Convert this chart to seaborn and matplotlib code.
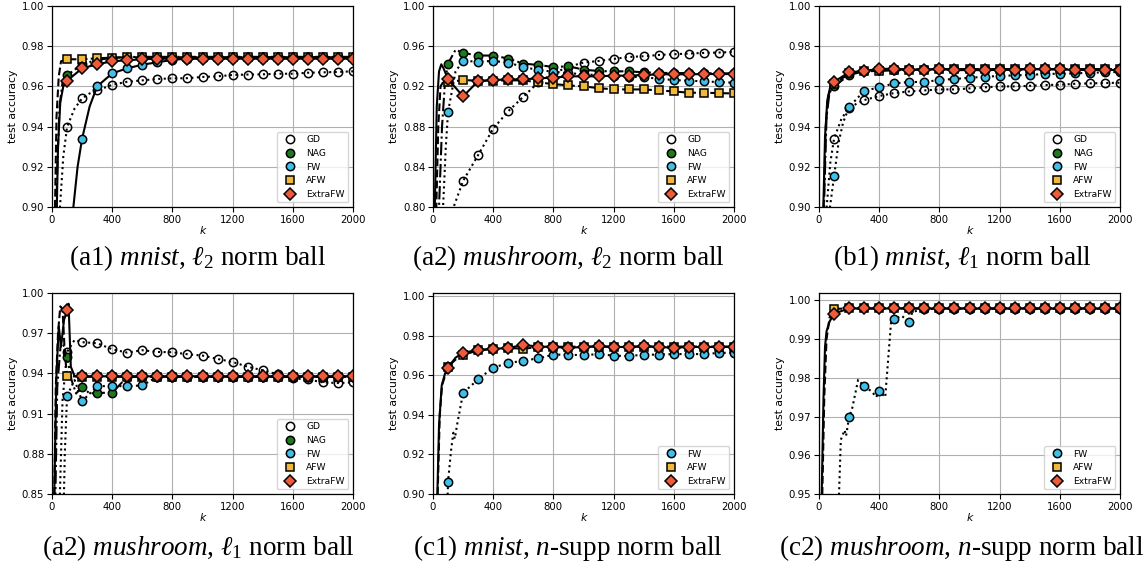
import numpy as np
import pandas as pd
import matplotlib
matplotlib.use("Agg")
import matplotlib.pyplot as plt
from matplotlib.lines import Line2D
from matplotlib.ticker import FormatStrFormatter
import seaborn as sns

# ---- data ----
# marker positions: every 100 iterations
K_MARKS = list(range(100, 2001, 100))

# (a1) mnist, l2 norm ball
A1_GD = [0.9398, 0.9540, 0.9580, 0.9608, 0.9623, 0.9630, 0.9637, 0.9640, 0.9641, 0.9647,
         0.9650, 0.9657, 0.9659, 0.9660, 0.9663, 0.9663, 0.9668, 0.9670, 0.9672, 0.9675]
A1_GD_EXTRA = [(0, 0.60), (40, 0.88), (53, 0.90), (75, 0.925), (150, 0.949), (250, 0.9565)]
A1_NAG = [0.9655, 0.9710, 0.9732, 0.9742, 0.9746, 0.9747, 0.9747, 0.9747, 0.9747, 0.9747,
          0.9747, 0.9747, 0.9747, 0.9747, 0.9747, 0.9747, 0.9747, 0.9747, 0.9747, 0.9747]
A1_NAG_EXTRA = [(0, 0.55), (25, 0.88), (35, 0.92), (50, 0.950), (70, 0.962)]
A1_FW = [0.8000, 0.9340, 0.9600, 0.9665, 0.9690, 0.9708, 0.9720, 0.9732, 0.9738, 0.9741,
         0.9743, 0.9744, 0.9744, 0.9745, 0.9745, 0.9745, 0.9745, 0.9745, 0.9745, 0.9745]
A1_FW_EXTRA = [(0, 0.40), (142, 0.90), (170, 0.92), (250, 0.950)]
A1_AFW = [0.9735, 0.9735, 0.9740, 0.9743, 0.9745, 0.9745, 0.9745, 0.9745, 0.9745, 0.9745,
          0.9745, 0.9745, 0.9745, 0.9745, 0.9745, 0.9745, 0.9745, 0.9745, 0.9745, 0.9745]
A1_AFW_EXTRA = [(0, 0.50), (10, 0.80), (20, 0.90), (30, 0.945), (45, 0.965), (60, 0.9725)]
A1_EXTRAFW = [0.9628, 0.9690, 0.9710, 0.9725, 0.9730, 0.9735, 0.9738, 0.9738, 0.9738, 0.9738,
              0.9738, 0.9738, 0.9738, 0.9738, 0.9738, 0.9738, 0.9738, 0.9738, 0.9738, 0.9738]
A1_EXTRAFW_EXTRA = [(0, 0.50), (25, 0.88), (32, 0.90), (40, 0.93), (55, 0.952), (75, 0.960)]

# (a2) mushroom, l2 norm ball
A2_GD = [0.7600, 0.8260, 0.8517, 0.8780, 0.8953, 0.9097, 0.9240, 0.9330, 0.9395, 0.9437,
         0.9453, 0.9473, 0.9493, 0.9500, 0.9513, 0.9520, 0.9527, 0.9533, 0.9537, 0.9543]
A2_GD_EXTRA = [(0, 0.50), (125, 0.795)]
A2_NAG = [0.9427, 0.9533, 0.9507, 0.9507, 0.9477, 0.9427, 0.9413, 0.9393, 0.9400, 0.9367,
          0.9353, 0.9350, 0.9350, 0.9340, 0.9335, 0.9333, 0.9332, 0.9330, 0.9330, 0.9330]
A2_NAG_EXTRA = [(0, 0.50), (40, 0.80), (60, 0.88), (80, 0.925), (150, 0.9565)]
A2_FW = [0.8947, 0.9453, 0.9447, 0.9453, 0.9437, 0.9393, 0.9363, 0.9347, 0.9330, 0.9323,
         0.9310, 0.9300, 0.9297, 0.9290, 0.9277, 0.9263, 0.9257, 0.9250, 0.9243, 0.9237]
A2_FW_EXTRA = [(0, 0.50), (50, 0.72), (67, 0.80), (85, 0.86), (150, 0.935)]
A2_AFW = [0.9243, 0.9263, 0.9257, 0.9257, 0.9260, 0.9260, 0.9240, 0.9223, 0.9210, 0.9200,
          0.9183, 0.9170, 0.9170, 0.9170, 0.9160, 0.9150, 0.9137, 0.9137, 0.9133, 0.9130]
A2_AFW_EXTRA = [(0, 0.50), (10, 0.70), (22, 0.80), (35, 0.88), (50, 0.92), (70, 0.925)]
A2_EXTRAFW = [0.9273, 0.9100, 0.9253, 0.9263, 0.9270, 0.9270, 0.9280, 0.9287, 0.9300, 0.9300,
              0.9300, 0.9307, 0.9307, 0.9313, 0.9320, 0.9320, 0.9320, 0.9323, 0.9323, 0.9323]
A2_EXTRAFW_EXTRA = [(0, 0.55), (12, 0.80), (25, 0.90), (40, 0.935), (55, 0.942), (70, 0.938)]

# (b1) mnist, l1 norm ball
B1_GD = [0.9340, 0.9495, 0.9532, 0.9552, 0.9567, 0.9575, 0.9580, 0.9585, 0.9585, 0.9590,
         0.9595, 0.9600, 0.9600, 0.9603, 0.9607, 0.9608, 0.9613, 0.9615, 0.9617, 0.9618]
B1_GD_EXTRA = [(0, 0.60), (40, 0.88), (51, 0.90), (75, 0.922), (150, 0.944)]
B1_NAG = [0.9600, 0.9657, 0.9675, 0.9680, 0.9683, 0.9685, 0.9685, 0.9686, 0.9686, 0.9686,
          0.9686, 0.9686, 0.9686, 0.9686, 0.9686, 0.9686, 0.9686, 0.9686, 0.9686, 0.9686]
B1_NAG_EXTRA = [(0, 0.55), (25, 0.87), (33, 0.90), (50, 0.945), (70, 0.957)]
B1_FW = [0.9152, 0.9497, 0.9578, 0.9595, 0.9615, 0.9622, 0.9622, 0.9632, 0.9637, 0.9643,
         0.9648, 0.9652, 0.9655, 0.9657, 0.9662, 0.9663, 0.9665, 0.9668, 0.9670, 0.9672]
B1_FW_EXTRA = [(0, 0.50), (65, 0.88), (73, 0.90), (130, 0.932), (160, 0.942)]
B1_AFW = [0.9610, 0.9665, 0.9675, 0.9677, 0.9680, 0.9683, 0.9684, 0.9686, 0.9686, 0.9686,
          0.9686, 0.9686, 0.9686, 0.9686, 0.9686, 0.9686, 0.9686, 0.9686, 0.9686, 0.9686]
B1_AFW_EXTRA = [(0, 0.50), (22, 0.85), (31, 0.90), (45, 0.94), (60, 0.955), (80, 0.959)]
B1_EXTRAFW = [0.9623, 0.9670, 0.9677, 0.9687, 0.9688, 0.9683, 0.9683, 0.9687, 0.9680, 0.9682,
              0.9680, 0.9683, 0.9682, 0.9687, 0.9685, 0.9685, 0.9682, 0.9682, 0.9682, 0.9682]
B1_EXTRAFW_EXTRA = [(0, 0.50), (20, 0.85), (29, 0.90), (40, 0.935), (55, 0.953), (75, 0.960)]

# (a2) mushroom, l1 norm ball
M1_GD = [0.9560, 0.9633, 0.9625, 0.9580, 0.9555, 0.9573, 0.9560, 0.9558, 0.9543, 0.9533,
         0.9508, 0.9485, 0.9450, 0.9423, 0.9393, 0.9363, 0.9355, 0.9333, 0.9328, 0.9333]
M1_GD_EXTRA = [(0, 0.60), (50, 0.84), (70, 0.92), (150, 0.965)]
M1_NAG = [0.9520, 0.9300, 0.9255, 0.9255, 0.9375, 0.9375, 0.9375, 0.9375, 0.9375, 0.9375,
          0.9375, 0.9375, 0.9375, 0.9375, 0.9375, 0.9375, 0.9375, 0.9375, 0.9375, 0.9375]
M1_NAG_EXTRA = [(0, 0.55), (15, 0.80), (35, 0.93), (60, 0.965), (80, 0.960), (130, 0.935),
                (160, 0.925), (250, 0.925)]
M1_FW = [0.9233, 0.9193, 0.9305, 0.9305, 0.9305, 0.9310, 0.9375, 0.9375, 0.9375, 0.9375,
         0.9375, 0.9375, 0.9375, 0.9375, 0.9375, 0.9375, 0.9375, 0.9375, 0.9375, 0.9375]
M1_FW_EXTRA = [(0, 0.55), (70, 0.80), (85, 0.88), (150, 0.935)]
M1_AFW = [0.9380, 0.9375, 0.9375, 0.9375, 0.9375, 0.9375, 0.9375, 0.9375, 0.9375, 0.9375,
          0.9375, 0.9375, 0.9375, 0.9375, 0.9375, 0.9375, 0.9375, 0.9375, 0.9375, 0.9375]
M1_AFW_EXTRA = [(0, 0.55), (10, 0.80), (25, 0.93), (40, 0.97), (55, 0.990), (70, 0.988),
                (85, 0.955)]
M1_EXTRAFW = [0.9870, 0.9378, 0.9378, 0.9378, 0.9378, 0.9378, 0.9378, 0.9378, 0.9378, 0.9378,
              0.9378, 0.9378, 0.9378, 0.9378, 0.9378, 0.9378, 0.9378, 0.9378, 0.9378, 0.9378]
M1_EXTRAFW_EXTRA = [(0, 0.50), (15, 0.85), (30, 0.94), (45, 0.975), (60, 0.960), (80, 0.980),
                    (110, 0.992), (125, 0.945), (150, 0.938)]

# (c1) mnist, n-supp norm ball
C1_FW = [0.9063, 0.9512, 0.9580, 0.9640, 0.9662, 0.9675, 0.9686, 0.9705, 0.9705, 0.9702,
         0.9708, 0.9700, 0.9698, 0.9705, 0.9705, 0.9708, 0.9708, 0.9708, 0.9714, 0.9715]
C1_FW_EXTRA = [(0, 0.50), (90, 0.88), (120, 0.922), (135, 0.931), (145, 0.928), (160, 0.935)]
C1_AFW = [0.9645, 0.9702, 0.9728, 0.9733, 0.9740, 0.9734, 0.9745, 0.9745, 0.9745, 0.9746,
          0.9746, 0.9746, 0.9746, 0.9746, 0.9746, 0.9746, 0.9746, 0.9746, 0.9746, 0.9746]
C1_AFW_EXTRA = [(0, 0.50), (22, 0.86), (31, 0.90), (45, 0.94), (60, 0.955), (150, 0.968)]
C1_EXTRAFW = [0.9640, 0.9715, 0.9729, 0.9734, 0.9739, 0.9754, 0.9746, 0.9744, 0.9740, 0.9744,
              0.9747, 0.9744, 0.9744, 0.9747, 0.9744, 0.9740, 0.9744, 0.9744, 0.9744, 0.9744]
C1_EXTRAFW_EXTRA = [(0, 0.50), (20, 0.86), (29, 0.90), (40, 0.935), (58, 0.955), (80, 0.961),
                    (150, 0.969)]

# (c2) mushroom, n-supp norm ball
C2_FW = [0.9200, 0.9699, 0.9778, 0.9766, 0.9952, 0.9944, 0.9978, 0.9978, 0.9978, 0.9978,
         0.9978, 0.9978, 0.9978, 0.9978, 0.9978, 0.9978, 0.9978, 0.9978, 0.9978, 0.9978]
C2_FW_EXTRA = [(0, 0.50), (125, 0.94), (133, 0.95), (145, 0.964), (170, 0.9665), (180, 0.965),
               (220, 0.972), (260, 0.9795), (350, 0.9765), (380, 0.975), (440, 0.975),
               (460, 0.985), (480, 0.995), (550, 0.996), (620, 0.997)]
C2_AFW = [0.9978, 0.9979, 0.9979, 0.9979, 0.9979, 0.9979, 0.9979, 0.9979, 0.9979, 0.9979,
          0.9979, 0.9979, 0.9979, 0.9979, 0.9979, 0.9979, 0.9979, 0.9979, 0.9979, 0.9979]
C2_AFW_EXTRA = [(0, 0.50), (12, 0.93), (22, 0.95), (35, 0.975), (50, 0.990), (70, 0.9955),
                (90, 0.9975)]
C2_EXTRAFW = [0.9966, 0.9979, 0.9979, 0.9979, 0.9979, 0.9979, 0.9979, 0.9979, 0.9979, 0.9979,
              0.9979, 0.9979, 0.9979, 0.9979, 0.9979, 0.9979, 0.9979, 0.9979, 0.9979, 0.9979]
C2_EXTRAFW_EXTRA = [(0, 0.50), (10, 0.93), (18, 0.95), (30, 0.975), (40, 0.988), (50, 0.992),
                    (70, 0.9945)]

CAPTIONS = [
    r"(a1) $\mathit{mnist}$, $\ell_2$ norm ball",
    r"(a2) $\mathit{mushroom}$, $\ell_2$ norm ball",
    r"(b1) $\mathit{mnist}$, $\ell_1$ norm ball",
    r"(a2) $\mathit{mushroom}$, $\ell_1$ norm ball",
    r"(c1) $\mathit{mnist}$, $n$-supp norm ball",
    r"(c2) $\mathit{mushroom}$, $n$-supp norm ball",
]

# ---- styles ----
STYLE = {
    "GD":      dict(ls=":",  marker="o", face="none"),
    "NAG":     dict(ls="-.", marker="o", face="#1f7a1f"),
    "FW":      dict(ls=":",  marker="o", face="#41bfe8"),
    "AFW":     dict(ls="--", marker="s", face="#f0b93a"),
    "ExtraFW": dict(ls="-",  marker="D", face="#ef5a3b"),
}

PANELS = [
    dict(series={"GD": (A1_GD, A1_GD_EXTRA), "NAG": (A1_NAG, A1_NAG_EXTRA),
                 "FW": (A1_FW, A1_FW_EXTRA), "AFW": (A1_AFW, A1_AFW_EXTRA),
                 "ExtraFW": (A1_EXTRAFW, A1_EXTRAFW_EXTRA)},
         ylim=(0.90, 1.00), ystep=0.02, ls_override={"FW": "-"}),
    dict(series={"GD": (A2_GD, A2_GD_EXTRA), "NAG": (A2_NAG, A2_NAG_EXTRA),
                 "FW": (A2_FW, A2_FW_EXTRA), "AFW": (A2_AFW, A2_AFW_EXTRA),
                 "ExtraFW": (A2_EXTRAFW, A2_EXTRAFW_EXTRA)},
         ylim=(0.80, 1.00), ystep=0.04, ls_override={}),
    dict(series={"GD": (B1_GD, B1_GD_EXTRA), "NAG": (B1_NAG, B1_NAG_EXTRA),
                 "FW": (B1_FW, B1_FW_EXTRA), "AFW": (B1_AFW, B1_AFW_EXTRA),
                 "ExtraFW": (B1_EXTRAFW, B1_EXTRAFW_EXTRA)},
         ylim=(0.90, 1.00), ystep=0.02, ls_override={}),
    dict(series={"GD": (M1_GD, M1_GD_EXTRA), "NAG": (M1_NAG, M1_NAG_EXTRA),
                 "FW": (M1_FW, M1_FW_EXTRA), "AFW": (M1_AFW, M1_AFW_EXTRA),
                 "ExtraFW": (M1_EXTRAFW, M1_EXTRAFW_EXTRA)},
         ylim=(0.85, 1.00), ystep=0.03, ls_override={}),
    dict(series={"FW": (C1_FW, C1_FW_EXTRA), "AFW": (C1_AFW, C1_AFW_EXTRA),
                 "ExtraFW": (C1_EXTRAFW, C1_EXTRAFW_EXTRA)},
         ylim=(0.90, 1.0017), ystep=0.02, ls_override={}),
    dict(series={"FW": (C2_FW, C2_FW_EXTRA), "AFW": (C2_AFW, C2_AFW_EXTRA),
                 "ExtraFW": (C2_EXTRAFW, C2_EXTRAFW_EXTRA)},
         ylim=(0.95, 1.0019), ystep=0.01, ls_override={}),
]


def build_series(marks, extra):
    df = pd.DataFrame({"k": K_MARKS + [p[0] for p in extra],
                       "acc": marks + [p[1] for p in extra],
                       "marked": [True] * len(K_MARKS) + [False] * len(extra)})
    return df.sort_values("k").reset_index(drop=True)


sns.set_theme(style="ticks", rc={
    "axes.edgecolor": "black",
    "axes.labelcolor": "black",
    "text.color": "black",
    "axes.linewidth": 0.9,
    "grid.color": "#b0b0b0",
    "grid.linewidth": 0.8,
    "xtick.color": "black",
    "ytick.color": "black",
    "xtick.major.size": 3.5,
    "ytick.major.size": 3.5,
    "xtick.major.width": 0.8,
    "ytick.major.width": 0.8,
    "mathtext.fontset": "custom",
    "mathtext.rm": "Liberation Serif",
    "mathtext.it": "Liberation Serif:italic",
    "mathtext.bf": "Liberation Serif:bold",
})
plt.rcParams["font.family"] = ["DejaVu Sans"]

W, H = 1146, 571
fig = plt.figure(figsize=(W / 100, H / 100), dpi=100)

col_left = [52, 433, 819]
col_cap = [198, 568, 962]
row_top = [6, 293]
row_cap = [258, 548]
ax_w, ax_h = 301, 201

MS = 6.0
MEW = 1.1

for i, panel in enumerate(PANELS):
    r, c = divmod(i, 3)
    ax = fig.add_axes([col_left[c] / W, 1 - (row_top[r] + ax_h) / H, ax_w / W, ax_h / H])
    handles = []
    for name, (marks, extra) in panel["series"].items():
        st = STYLE[name]
        df = build_series(marks, extra)
        idx = list(np.flatnonzero(df["marked"].to_numpy()))
        ls = panel["ls_override"].get(name, st["ls"])
        ms = MS if st["marker"] != "D" else MS - 0.3
        sns.lineplot(data=df, x="k", y="acc", ax=ax, estimator=None, sort=False,
                     color="black", linestyle=ls, linewidth=1.5,
                     marker=st["marker"], markevery=idx, markersize=ms,
                     markerfacecolor=st["face"], markeredgecolor="black",
                     markeredgewidth=MEW, legend=False)
        handles.append(Line2D([], [], linestyle="none", marker=st["marker"],
                              markersize=ms, markerfacecolor=st["face"],
                              markeredgecolor="black", markeredgewidth=MEW, label=name))
    ax.set_xlim(0, 2000)
    ax.set_ylim(*panel["ylim"])
    ax.set_xticks(np.arange(0, 2001, 400))
    lo = panel["ylim"][0]
    ax.set_yticks(np.arange(lo, 1.0 + 1e-9, panel["ystep"]))
    ax.yaxis.set_major_formatter(FormatStrFormatter("%.2f"))
    ax.tick_params(labelsize=7.3, pad=2)
    ax.grid(True)
    ax.set_xlabel("k", fontsize=7.8, labelpad=1, fontstyle="italic")
    ax.set_ylabel("test accuracy", fontsize=7.8, labelpad=3)
    ax.legend(handles=handles, loc="lower right", fontsize=6.6, frameon=True)
    fig.text(col_cap[c] / W, 1 - row_cap[r] / H, CAPTIONS[i], ha="center", va="center",
             fontsize=19.5, fontfamily="Liberation Serif", color="black")

fig.savefig("out.png", dpi=100)
